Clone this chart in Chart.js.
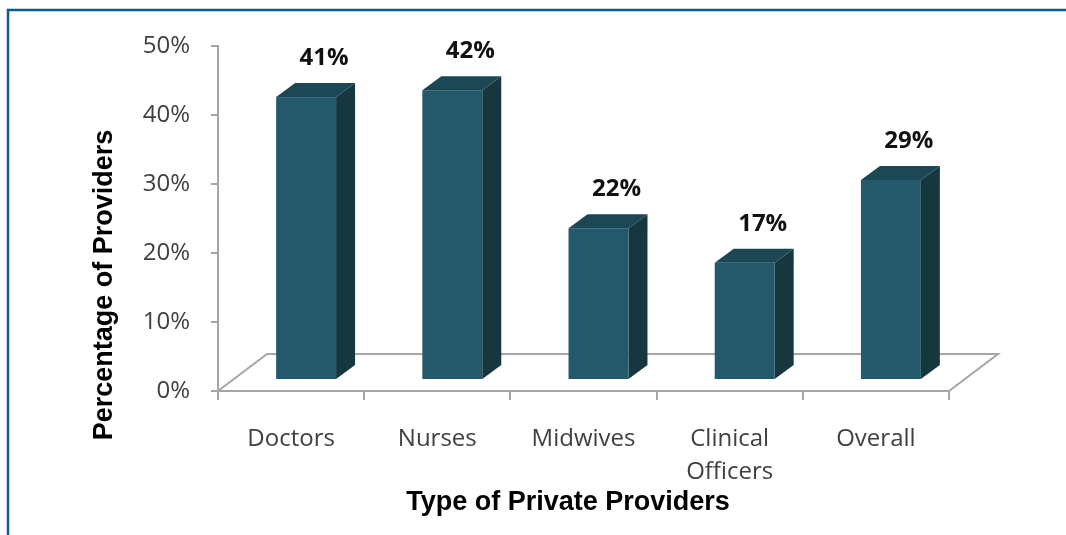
<!DOCTYPE html>
<html>
<head>
<meta charset="utf-8">
<script src="https://cdn.jsdelivr.net/npm/chart.js@4.4.0/dist/chart.umd.min.js"></script>
<style>
  html, body { margin: 0; padding: 0; background: #fff; }
  #wrap { width: 1066px; height: 535px; position: relative; }
</style>
</head>
<body>
<div id="wrap"><canvas id="chart"></canvas></div>
<script>
// provider share by type (%)
const categories = ["Doctors", "Nurses", "Midwives", ["Clinical", "Officers"], "Overall"];
const shares = [41, 42, 22, 17, 29];
const yTicks = [0, 10, 20, 30, 40, 50];

const yTitle = "Percentage of Providers";
const xTitle = "Type of Private Providers";

const FRONT = "#23596a", TOP = "#1c4754", SIDE = "#17373f";
const AXIS = "#a6a6a6";

// floor depth and bar depth for the fake 3d look
const floorDx = 49, floorDy = -37;
const barShiftX = 15, barShiftY = -11;
const barDx = 19, barDy = -14;

const box3d = {
  id: "box3d",
  beforeDraw(chart) {
    const ctx = chart.ctx;
    ctx.save();
    ctx.fillStyle = "#fff";
    ctx.fillRect(0, 0, chart.width, chart.height);
    // blue frame
    ctx.strokeStyle = "#0b5c88";
    ctx.lineWidth = 2.5;
    ctx.beginPath();
    ctx.moveTo(8, chart.height);
    ctx.lineTo(8, 10);
    ctx.lineTo(chart.width, 10);
    ctx.stroke();
    ctx.restore();
  },
  beforeDatasetsDraw(chart) {
    const { ctx, chartArea: a } = chart;
    ctx.save();
    ctx.strokeStyle = AXIS;
    ctx.lineWidth = 2;
    ctx.beginPath();
    ctx.moveTo(a.left, a.bottom);
    ctx.lineTo(a.left + floorDx, a.bottom + floorDy);
    ctx.lineTo(a.right + floorDx, a.bottom + floorDy);
    ctx.lineTo(a.right, a.bottom);
    ctx.stroke();
    ctx.restore();
  },
  afterDatasetsDraw(chart) {
    const ctx = chart.ctx;
    const meta = chart.getDatasetMeta(0);
    ctx.save();
    meta.data.forEach((bar, i) => {
      const xl = bar.x - bar.width / 2 + barShiftX;
      const xr = bar.x + bar.width / 2 + barShiftX;
      const yt = bar.y + barShiftY;
      const yb = bar.base + barShiftY;
      // side
      ctx.fillStyle = SIDE;
      ctx.beginPath();
      ctx.moveTo(xr, yt);
      ctx.lineTo(xr + barDx, yt + barDy);
      ctx.lineTo(xr + barDx, yb + barDy);
      ctx.lineTo(xr, yb);
      ctx.closePath();
      ctx.fill();
      // top
      ctx.fillStyle = TOP;
      ctx.beginPath();
      ctx.moveTo(xl, yt);
      ctx.lineTo(xl + barDx, yt + barDy);
      ctx.lineTo(xr + barDx, yt + barDy);
      ctx.lineTo(xr, yt);
      ctx.closePath();
      ctx.fill();
      // front
      ctx.fillStyle = FRONT;
      ctx.fillRect(xl, yt, xr - xl, yb - yt);

      // value label
      ctx.fillStyle = "#111";
      ctx.font = "bold 24px 'Open Sans'";
      ctx.textAlign = "center";
      ctx.textBaseline = "middle";
      ctx.fillText(shares[i] + "%", bar.x + barShiftX + barDx - 1, bar.y - 50);
    });
    ctx.restore();
  },
  afterDraw(chart) {
    const ctx = chart.ctx;
    ctx.save();
    ctx.fillStyle = "#000";
    ctx.font = "bold 27px 'Liberation Sans'";
    ctx.textAlign = "center";
    ctx.textBaseline = "middle";
    ctx.fillText(xTitle, 568, 503);
    ctx.translate(105, 285);
    ctx.rotate(-Math.PI / 2);
    ctx.fillText(yTitle, 0, 0);
    ctx.restore();
  }
};

new Chart(document.getElementById("chart"), {
  type: "bar",
  data: {
    labels: categories,
    datasets: [{
      data: shares,
      backgroundColor: "rgba(0,0,0,0)",
      categoryPercentage: 1,
      barPercentage: 0.41
    }]
  },
  options: {
    responsive: true,
    maintainAspectRatio: false,
    animation: false,
    events: [],
    layout: { padding: { left: 118, top: 46, right: 117, bottom: 0 } },
    plugins: {
      legend: { display: false },
      tooltip: { enabled: false }
    },
    scales: {
      x: {
        afterFit: (s) => { s.height = 144; },
        grid: {
          offset: true,
          drawOnChartArea: false,
          color: AXIS,
          lineWidth: 2,
          tickLength: 9
        },
        border: { display: true, color: AXIS, width: 2 },
        ticks: {
          color: "#404040",
          padding: 22,
          font: { family: "'Open Sans'", size: 24, lineHeight: 1.4 }
        }
      },
      y: {
        min: 0,
        max: 50,
        afterFit: (s) => { s.width = 100; },
        afterBuildTicks: (s) => { s.ticks = yTicks.map(v => ({ value: v })); },
        grid: {
          drawOnChartArea: false,
          color: AXIS,
          lineWidth: 2,
          tickLength: 7
        },
        border: { display: true, color: AXIS, width: 2 },
        ticks: {
          color: "#404040",
          padding: 21,
          font: { family: "'Open Sans'", size: 24 },
          callback: (v) => v + "%"
        }
      }
    }
  },
  plugins: [box3d]
});
</script>
</body>
</html>
